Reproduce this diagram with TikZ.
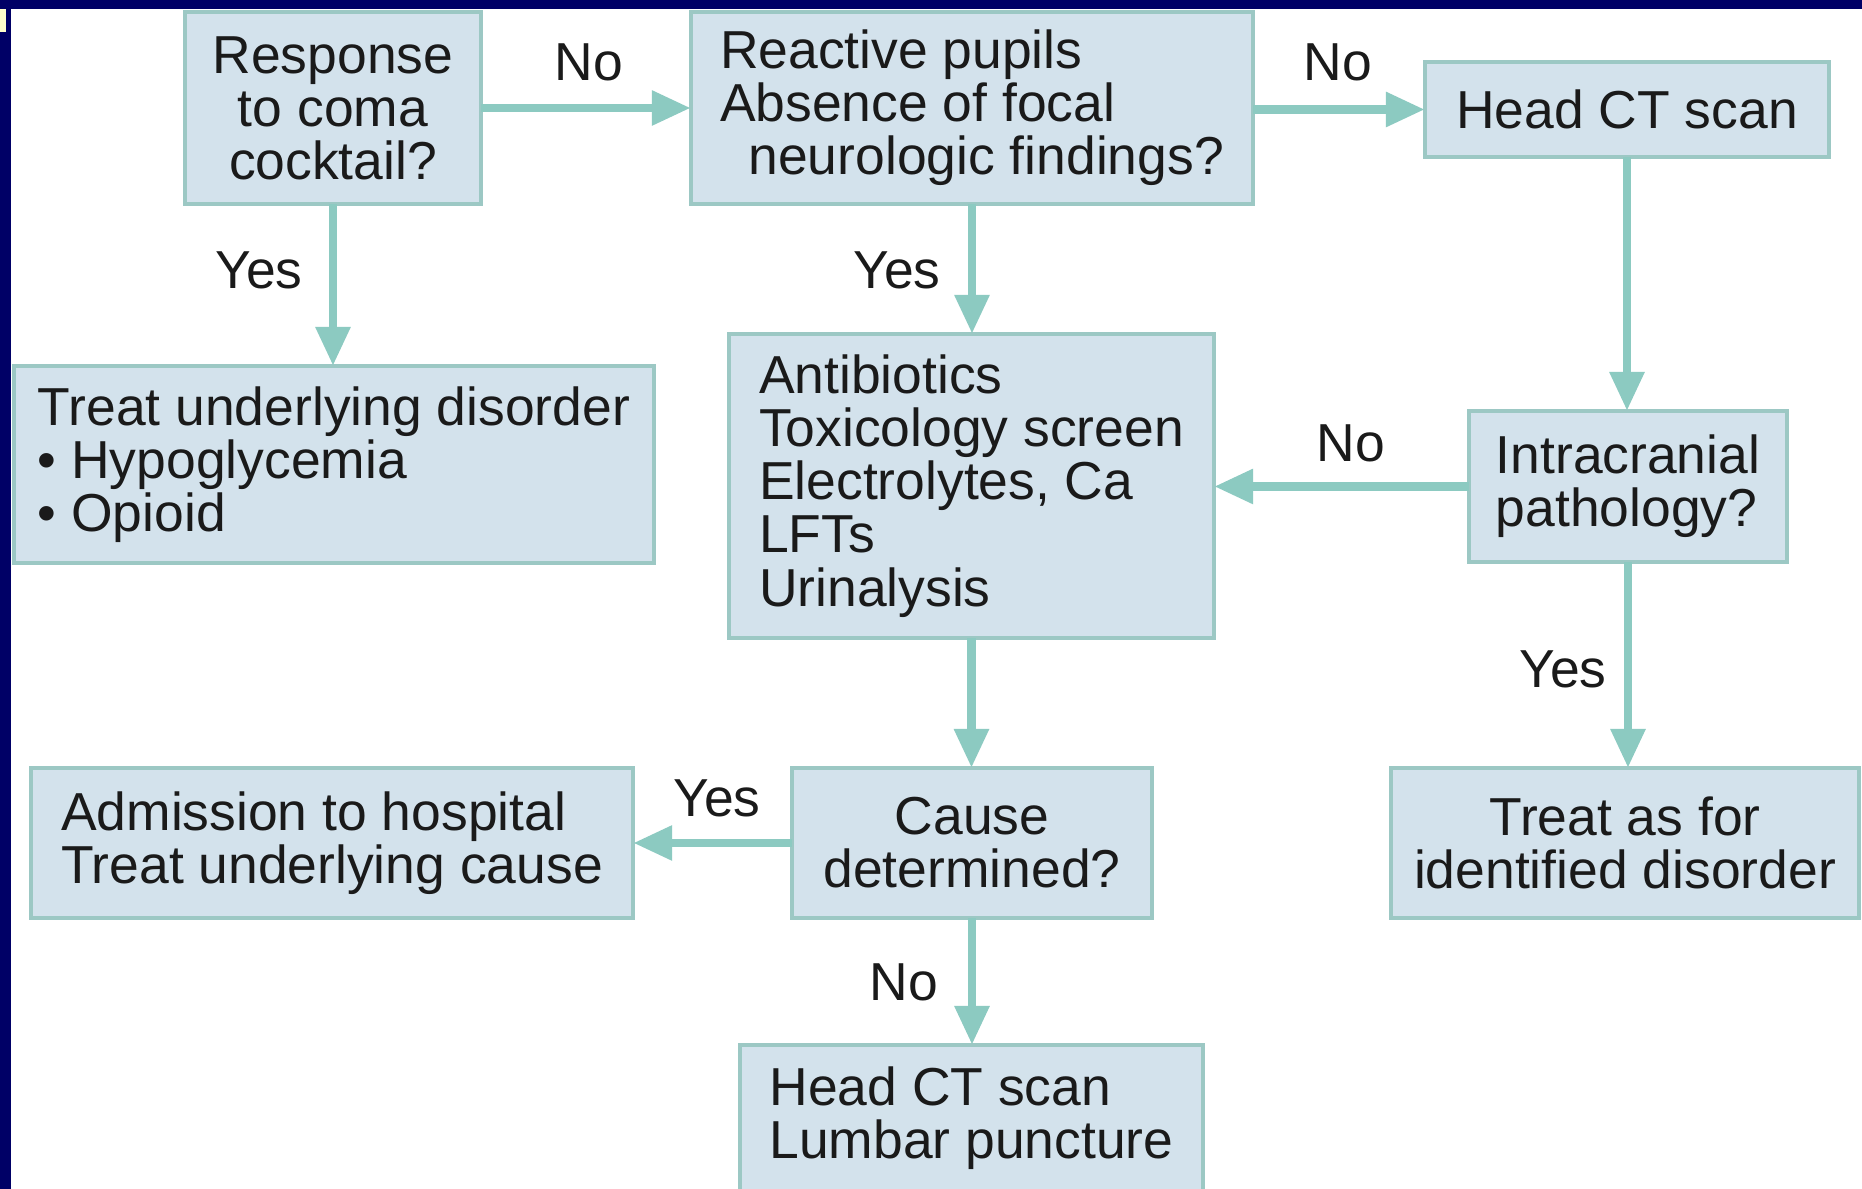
\documentclass[tikz,border=0pt]{standalone}
\usepackage{fontspec}
\setmainfont{Liberation Sans}
\usetikzlibrary{arrows.meta}
\definecolor{navy}{HTML}{000066}
\definecolor{boxfill}{HTML}{D3E2EC}
\definecolor{boxline}{HTML}{9CC8C4}
\definecolor{arrowcol}{HTML}{8CCAC1}
\definecolor{txt}{HTML}{1A1A1A}
\definecolor{markyellow}{HTML}{FFFFCC}
\begin{document}
\begin{tikzpicture}[x=0.01cm,y=-0.01cm,
  every node/.append style={font=\fontsize{15.2}{15.1}\selectfont, text=txt},
  fbox/.style={draw=boxline, fill=boxfill, line width=1.3pt, inner sep=0pt, outer sep=0pt},
  lbox/.style={fbox, align=left},
  cbox/.style={fbox, align=center},
  flow/.style={draw=arrowcol, line width=2.5pt, -{Triangle[length=3.9mm,width=3.3mm]}},
  lbl/.style={inner sep=0pt}
]
\useasboundingbox (0,0) rectangle (1862,1189);
\clip (0,0) rectangle (1862,1189);
\fill[white] (0,0) rectangle (1862,1189);

% boxes
\node[cbox, minimum width=2.96cm, minimum height=1.92cm] (b1) at (333,108) {Response\\to coma\\cocktail?};
\node[lbox, minimum width=5.62cm, minimum height=1.92cm] (b2) at (972,108) {Reactive pupils\\Absence of focal\\\hspace*{0.285cm}neurologic findings?};
\node[cbox, minimum width=4.04cm, minimum height=0.95cm] (b3) at (1627,109.5) {Head CT scan};
\node[lbox, minimum width=6.40cm, minimum height=1.97cm] (b4) at (334,464.5) {Treat underlying disorder\\• Hypoglycemia\\• Opioid};
\node[lbox, minimum width=4.85cm, minimum height=3.04cm] (b5) at (971.5,486) {Antibiotics\\Toxicology screen\\Electrolytes, Ca\\LFTs\\Urinalysis};
\node[lbox, minimum width=3.18cm, minimum height=1.51cm] (b6) at (1628,486.5) {Intracranial\\pathology?};
\node[lbox, minimum width=6.02cm, minimum height=1.50cm] (b7) at (332,843) {Admission to hospital\\Treat underlying cause};
\node[cbox, minimum width=3.60cm, minimum height=1.50cm] (b8) at (972,843) {Cause\\determined?};
\node[cbox, minimum width=4.68cm, minimum height=1.50cm] (b9) at (1625,843) {Treat as for\\identified disorder};
\node[lbox, minimum width=4.63cm, minimum height=1.47cm] (b10) at (971.5,1118.5) {Head CT scan\\Lumbar puncture};

% connectors
\draw[flow] (b1.east) -- (b2.west);
\draw[flow] (b2.east |- b3.west) -- (b3.west);
\draw[flow] (b1.south) -- (b1.south |- b4.north);
\draw[flow] (b2.south) -- (b2.south |- b5.north);
\draw[flow] (b3.south) -- (b3.south |- b6.north);
\draw[flow] (b6.west) -- (b6.west -| b5.east);
\draw[flow] (b5.south) -- (b5.south |- b8.north);
\draw[flow] (b8.west) -- (b8.west -| b7.east);
\draw[flow] (b8.south) -- (b8.south |- b10.north);
\draw[flow] (b6.south) -- (b6.south |- b9.north);

% labels
\node[lbl] (l1) at (589,62) {No};
\node[lbl] (l2) at (1338,62) {No};
\node[lbl] (l3) at (259,270) {Yes};
\node[lbl] (l4) at (897,270) {Yes};
\node[lbl] (l5) at (1351,443) {No};
\node[lbl] (l6) at (717,798) {Yes};
\node[lbl] (l7) at (904,982) {No};
\node[lbl] (l8) at (1563,669) {Yes};

% frame
\fill[navy] (0,0) rectangle (1862,9);
\fill[navy] (0,0) rectangle (11,1189);
\fill[markyellow] (0,9) rectangle (6,32);
\end{tikzpicture}
\end{document}
